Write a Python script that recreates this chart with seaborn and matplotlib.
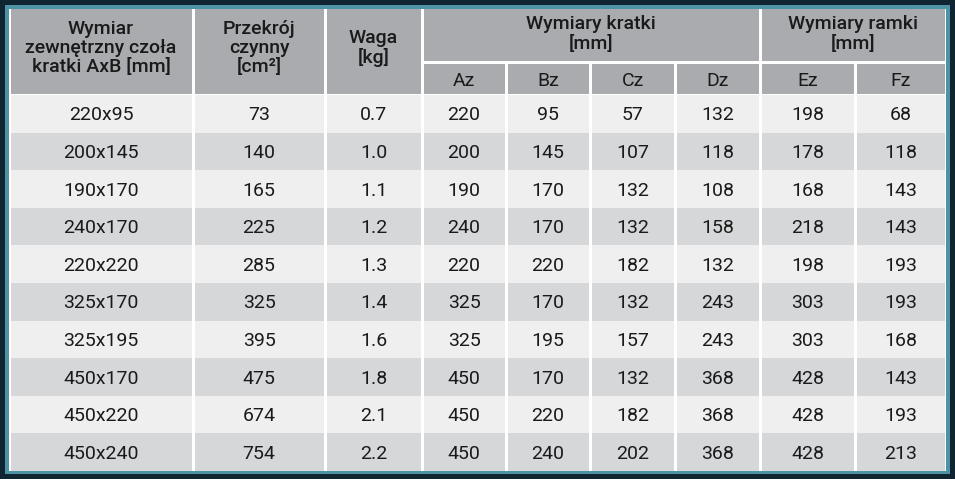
import matplotlib
matplotlib.use("Agg")
import matplotlib.pyplot as plt
from matplotlib.patches import Rectangle
import seaborn as sns

sns.set_style("white")
plt.rcParams['font.family'] = ['Roboto', 'DejaVu Sans']

# table data
wymiar = ["220x95", "200x145", "190x170", "240x170", "220x220",
          "325x170", "325x195", "450x170", "450x220", "450x240"]
przekroj = [73, 140, 165, 225, 285, 325, 395, 475, 674, 754]
waga = ["0.7", "1.0", "1.1", "1.2", "1.3", "1.4", "1.6", "1.8", "2.1", "2.2"]
az = [220, 200, 190, 240, 220, 325, 325, 450, 450, 450]
bz = [95, 145, 170, 170, 220, 170, 195, 170, 220, 240]
cz = [57, 107, 132, 132, 182, 132, 157, 132, 182, 202]
dz = [132, 118, 108, 158, 132, 243, 243, 368, 368, 368]
ez = [198, 178, 168, 218, 198, 303, 303, 428, 428, 428]
fz = [68, 118, 143, 143, 193, 193, 168, 143, 193, 213]

header_top = ["Wymiar\nzewnętrzny czoła\nkratki AxB [mm]", "Przekrój\nczynny\n[cm²]", "Waga\n[kg]"]
group_heads = ["Wymiary kratki\n[mm]", "Wymiary ramki\n[mm]"]
sub_heads = ["Az", "Bz", "Cz", "Dz", "Ez", "Fz"]

columns = [wymiar, przekroj, waga, az, bz, cz, dz, ez, fz]
xs = [9, 193, 325, 422, 506, 590, 675, 760, 855, 946]
y_head, y_sub, y_body, y_end = 9, 62, 95, 471

W, H = 955, 479
fig = plt.figure(figsize=(W / 100, H / 100), dpi=100)
fig.patch.set_facecolor("#102431")
ax = fig.add_axes([0, 0, 1, 1])
ax.set_xlim(0, W)
ax.set_ylim(H, 0)
ax.axis("off")

ax.add_patch(Rectangle((5, 5), W - 10, H - 10, facecolor="#4d93a5", edgecolor="none"))
ax.add_patch(Rectangle((9, 9), 937, y_end - 9, facecolor="white", edgecolor="none"))

head_c = "#a9abae"
txt_c = "#1a1a1a"
fs = 14
gap = 1.5
# header cells
for i in range(3):
    ax.add_patch(Rectangle((xs[i] + gap, y_head), xs[i + 1] - xs[i] - 2 * gap, y_body - y_head - gap,
                           facecolor=head_c, edgecolor="none"))
    ax.text((xs[i] + xs[i + 1]) / 2, 48, header_top[i], ha="center", va="center",
            fontsize=fs, color=txt_c, fontweight="medium", linespacing=1.1)
for g, (a, b) in enumerate([(3, 7), (7, 9)]):
    ax.add_patch(Rectangle((xs[a] + gap, y_head), xs[b] - xs[a] - 2 * gap, y_sub - y_head - gap,
                           facecolor=head_c, edgecolor="none"))
    ax.text((xs[a] + xs[b]) / 2, 34, group_heads[g], ha="center", va="center",
            fontsize=fs, color=txt_c, fontweight="medium", linespacing=1.1)
for j, s in enumerate(sub_heads):
    i = j + 3
    ax.add_patch(Rectangle((xs[i] + gap, y_sub + gap), xs[i + 1] - xs[i] - 2 * gap, y_body - y_sub - 2 * gap,
                           facecolor=head_c, edgecolor="none"))
    ax.text((xs[i] + xs[i + 1]) / 2, (y_sub + y_body) / 2 + 2, s, ha="center", va="center",
            fontsize=fs, color=txt_c)

# body rows
n = len(wymiar)
rh = (y_end - y_body) / n
for r in range(n):
    y0 = y_body + r * rh
    fc = "#efeff0" if r % 2 == 0 else "#d6d7d9"
    for i, col in enumerate(columns):
        ax.add_patch(Rectangle((xs[i] + gap, y0), xs[i + 1] - xs[i] - 2 * gap, rh,
                               facecolor=fc, edgecolor="none"))
        ax.text((xs[i] + xs[i + 1]) / 2, y0 + rh / 2 + 1.5, str(col[r]), ha="center", va="center",
                fontsize=fs, color=txt_c)

fig.savefig("out.png", dpi=100, facecolor=fig.get_facecolor())
